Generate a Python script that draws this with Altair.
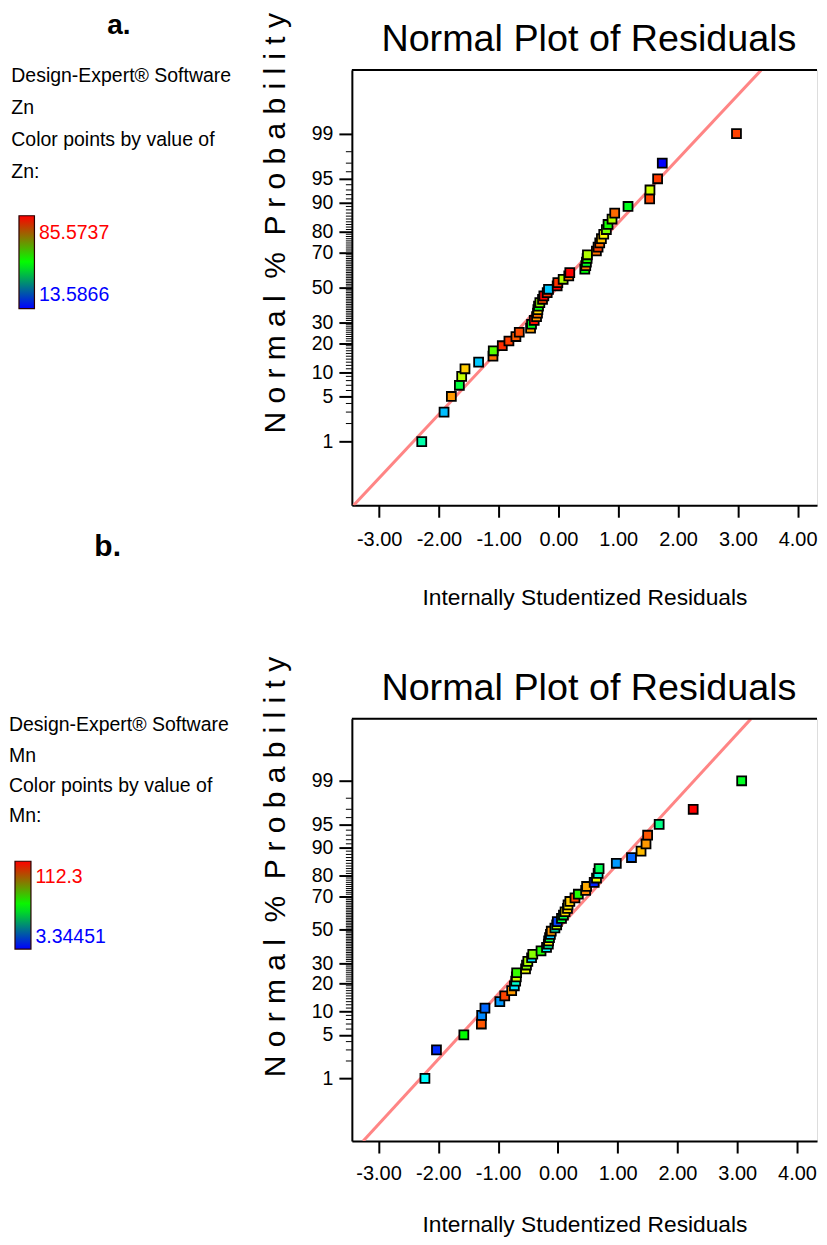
import altair as alt
import pandas as pd
from statistics import NormalDist

ND = NormalDist()

FONT = "Liberation Sans, Arial, sans-serif"
BOLD = "Liberation Sans, Arial, sans-serif"

# ---------------- data ----------------
# normal % probability of each ranked residual (50 runs)
prob_pct = [1, 3, 5, 7, 9, 11, 13, 15, 17, 19, 21, 23, 25, 27, 29, 31, 33, 35, 37, 39,
            41, 43, 45, 47, 49, 51, 53, 55, 57, 59, 61, 63, 65, 67, 69, 71, 73, 75, 77, 79,
            81, 83, 85, 87, 89, 91, 93, 95, 97, 99]

# panel a : Zn
zn_resid = [-2.287, -1.914, -1.792, -1.658, -1.619, -1.564, -1.336, -1.096, -1.091, -0.940,
            -0.829, -0.712, -0.656, -0.467, -0.451, -0.406, -0.367, -0.351, -0.345, -0.334,
            -0.312, -0.267, -0.245, -0.189, -0.167, -0.022, -0.011, 0.078, 0.172, 0.189,
            0.440, 0.456, 0.467, 0.479, 0.484, 0.634, 0.662, 0.690, 0.718, 0.757,
            0.801, 0.829, 0.896, 0.940, 1.163, 1.525, 1.530, 1.658, 1.736, 2.977]
zn_value = [37.6, 27.1, 74.8, 45.1, 63.1, 71.2, 27.7, 77.7, 55.6, 82.3,
            81.1, 79.0, 80.2, 74.2, 48.1, 84.4, 75.0, 77.7, 70.0, 48.1,
            60.0, 80.0, 85.5, 82.0, 27.7, 85.5, 82.0, 62.0, 78.0, 85.5,
            49.0, 77.0, 47.0, 52.0, 62.0, 77.7, 81.0, 78.0, 72.0, 68.0,
            58.0, 51.0, 62.0, 78.0, 47.5, 80.5, 64.0, 81.5, 13.6, 81.0]
zn_range = [13.5866, 85.5737]

# panel b : Mn
mn_resid = [-2.224, -2.031, -1.573, -1.280, -1.275, -1.220, -0.971, -0.889, -0.773, -0.728,
            -0.706, -0.695, -0.690, -0.541, -0.525, -0.503, -0.440, -0.420, -0.282, -0.190,
            -0.160, -0.155, -0.140, -0.125, -0.111, -0.050, -0.020, -0.010, 0.060, 0.093,
            0.120, 0.160, 0.170, 0.200, 0.286, 0.342, 0.464, 0.480, 0.607, 0.646,
            0.673, 0.689, 0.977, 1.231, 1.391, 1.474, 1.501, 1.694, 2.263, 3.074]
mn_value = [30.6, 7.9, 57.8, 103.2, 17.9, 14.2, 19.7, 105.0, 96.0, 27.9,
            36.0, 79.6, 63.3, 83.2, 72.3, 76.0, 27.0, 72.3, 61.5, 30.0,
            40.0, 86.9, 50.6, 25.1, 96.0, 36.0, 77.8, 10.6, 52.0, 50.6,
            88.7, 89.4, 86.9, 90.5, 105.0, 61.5, 97.8, 94.1, 7.0, 83.2,
            34.2, 48.7, 19.7, 14.2, 92.3, 96.0, 103.2, 43.3, 112.3, 54.2]
mn_range = [3.34451, 112.3]

# reference lines (ends, in residual / normal-score units)
zn_line_x = [-3.427, 3.389]
zn_line_z = [-3.290, 3.286]
mn_line_x = [-3.257, 3.228]
mn_line_z = [-3.305, 3.294]

# axis ticks
x_ticks = [-3, -2, -1, 0, 1, 2, 3, 4]
major_pct = [1, 5, 10, 20, 30, 50, 70, 80, 90, 95, 99]
minor_pct = [p for p in range(2, 99) if p not in major_pct]

YTITLE = "N o r m a l \u00a0% \u00a0P r o b a b i l i t y"


def zscore(p):
    return ND.inv_cdf(p / 100.0)


major_z = [zscore(p) for p in major_pct]
minor_z = [zscore(p) for p in minor_pct]

parts = []
for i, p in enumerate(major_pct[:-1]):
    t = (major_z[i] + major_z[i + 1]) / 2
    parts.append(f"datum.value < {t:.5f} ? '{p}' : ")
Y_LABEL_EXPR = "".join(parts) + f"'{major_pct[-1]}'"
X_LABEL_EXPR = "(datum.value < 0 ? '-' : '') + format(abs(datum.value), '.2f')"

W = 466


def fmt(v):
    return f"{v:.6g}"


def panel(tag, var, resid, value, crange, line_x, line_z, cfg):
    H = cfg["H"]
    one = pd.DataFrame({"k": [0]})
    df = pd.DataFrame({"resid": resid, "z": [zscore(p) for p in prob_pct], var: value})
    mid = (crange[0] + crange[1]) / 2

    xscale = alt.Scale(domain=cfg["xdom"], nice=False, zero=False)
    yscale = alt.Scale(domain=cfg["ydom"], nice=False, zero=False)
    xaxis = alt.Axis(values=x_ticks, labelExpr=X_LABEL_EXPR,
                     title="Internally Studentized Residuals",
                     titleFont=FONT, titleFontSize=22.8, titleFontWeight="normal",
                     titleColor="black", titleY=cfg["xtitle_y"], titleBaseline="alphabetic",
                     labelFont=FONT, labelFontSize=20, labelColor="black",
                     labelPadding=cfg["xlab_pad"], labelFlush=False, labelOverlap=False,
                     tickSize=12, tickWidth=2, tickColor="black",
                     domainColor="black", domainWidth=2, grid=False)
    yaxis = alt.Axis(values=major_z, labelExpr=Y_LABEL_EXPR, title=YTITLE,
                     titleFont=FONT, titleFontSize=30, titleFontWeight="normal",
                     titleColor="black", titleX=-76.5, titleY=cfg["ytitle_y"],
                     titleAlign="center", titleBaseline="middle", titleAngle=270,
                     labelFont=FONT, labelFontSize=19.5, labelColor="black",
                     labelPadding=6, labelOverlap=False, labelFlush=False, labelBound=False,
                     tickSize=13, tickWidth=2, tickColor="black",
                     domainColor="black", domainWidth=2, grid=False)

    X = alt.X("resid:Q", scale=xscale, axis=xaxis)
    Y = alt.Y("z:Q", scale=yscale, axis=yaxis)

    line = alt.Chart(pd.DataFrame({"resid": line_x, "z": line_z})).mark_line(
        color="#ff8585", strokeWidth=3, clip=True).encode(x=X, y=Y)

    minor = alt.Chart(pd.DataFrame({"z": minor_z})).mark_rule(
        color="black", strokeWidth=1).encode(y=Y, x=alt.value(-6), x2=alt.value(0))

    topline = alt.Chart(one).mark_rule(color="black", strokeWidth=2).encode(
        x=alt.value(0), x2=alt.value(W), y=alt.value(0))

    # invisible anchor that fixes the upper edge of the drawing
    anchor = alt.Chart(one).mark_rule(color="white", strokeWidth=1, opacity=0).encode(
        x=alt.value(0), x2=alt.value(1), y=alt.value(cfg["anchor_y"]))

    points = alt.Chart(df).mark_point(
        shape="square", filled=True, size=80, stroke="black", strokeWidth=1.8, opacity=1
    ).encode(
        x=X, y=Y,
        color=alt.Color(f"{var}:Q",
                        scale=alt.Scale(domain=[crange[0], mid, crange[1]],
                                        range=["#0000ff", "#00ff00", "#ff0000"],
                                        interpolate="hsl"),
                        legend=None))

    title = alt.Chart(one).mark_text(
        font=FONT, fontSize=37.8, align="center", baseline="alphabetic", color="black"
    ).encode(x=alt.value(cfg["title_x"]), y=alt.value(-19),
             text=alt.value("Normal Plot of Residuals"))

    tagtxt = alt.Chart(one).mark_text(
        font=BOLD, fontSize=cfg["tag_fs"], fontWeight="bold", align="left",
        baseline="alphabetic", color="black"
    ).encode(x=alt.value(cfg["tag_x"]), y=alt.value(cfg["tag_y"]), text=alt.value(tag))

    info = alt.Chart(one).mark_text(
        font=FONT, fontSize=19.5, align="left", baseline="alphabetic",
        lineHeight=cfg["lh"], color="black"
    ).encode(x=alt.value(cfg["info_x"]), y=alt.value(12.3),
             text=alt.value(["Design-Expert\u00ae Software", var, "\u00a0",
                             "Color points by value of", var + ":"]))

    leg_label = f"datum.value > {mid} ? '{fmt(crange[1])}' : '{fmt(crange[0])}'"
    leg_color = f"datum.value > {mid} ? '#ff0000' : '#0000ff'"
    legend_layer = alt.Chart(pd.DataFrame({var: crange})).mark_point(size=0, opacity=1).encode(
        x=alt.value(0), y=alt.value(0),
        color=alt.Color(f"{var}:Q",
                        scale=alt.Scale(domain=[crange[0], mid, crange[1]],
                                        range=["#0000ff", "#00ff00", "#ff0000"],
                                        interpolate="rgb"),
                        legend=alt.Legend(orient="none", legendX=cfg["leg_x"],
                                          legendY=cfg["leg_y"], title=None,
                                          direction="vertical", padding=0,
                                          gradientLength=cfg["glen"],
                                          gradientThickness=cfg["gth"],
                                          gradientStrokeColor="#2a0000",
                                          gradientStrokeWidth=1.2,
                                          values=cfg["leg_vals"], labelExpr=leg_label,
                                          labelFont=FONT, labelFontSize=19.5,
                                          labelColor={"expr": leg_color},
                                          labelOffset=4.5, labelOverlap=False)))

    return alt.layer(anchor, line, minor, topline, points, title, tagtxt, info,
                     legend_layer).resolve_scale(color="independent").properties(width=W, height=H)


cfg_a = dict(H=436, xdom=[-3.456, 4.324], ydom=[-3.288, 3.288], title_x=237.5,
             tag_x=-245, tag_y=-36, tag_fs=28, info_x=-341.2, lh=32, anchor_y=-60.5,
             leg_x=-333.5, leg_y=146, glen=93, gth=15.5, leg_vals=[23.95, 72.33],
             xlab_pad=12.4, xtitle_y=99.9, ytitle_y=153)
cfg_b = dict(H=423, xdom=[-3.446, 4.334], ydom=[-3.305, 3.295], title_x=237.5,
             tag_x=-258, tag_y=-163, tag_fs=30, info_x=-343.5, lh=30.5, anchor_y=-40,
             leg_x=-337.5, leg_y=142.7, glen=88, gth=16, leg_vals=[18.06, 93.23],
             xlab_pad=10.2, xtitle_y=90.3, ytitle_y=148)

pa = panel("a.", "Zn", zn_resid, zn_value, zn_range, zn_line_x, zn_line_z, cfg_a)
pb = panel("b.", "Mn", mn_resid, mn_value, mn_range, mn_line_x, mn_line_z, cfg_b)

chart = alt.vconcat(pa, pb, spacing=214, bounds="flush").resolve_scale(
    color="independent", x="independent", y="independent"
).properties(
    padding={"left": 0.5, "top": 0, "right": 0, "bottom": 0}
).configure_view(stroke="transparent", strokeWidth=0).configure(background="white")

chart.save("out.html", embed_options={"renderer": "svg", "actions": False})
